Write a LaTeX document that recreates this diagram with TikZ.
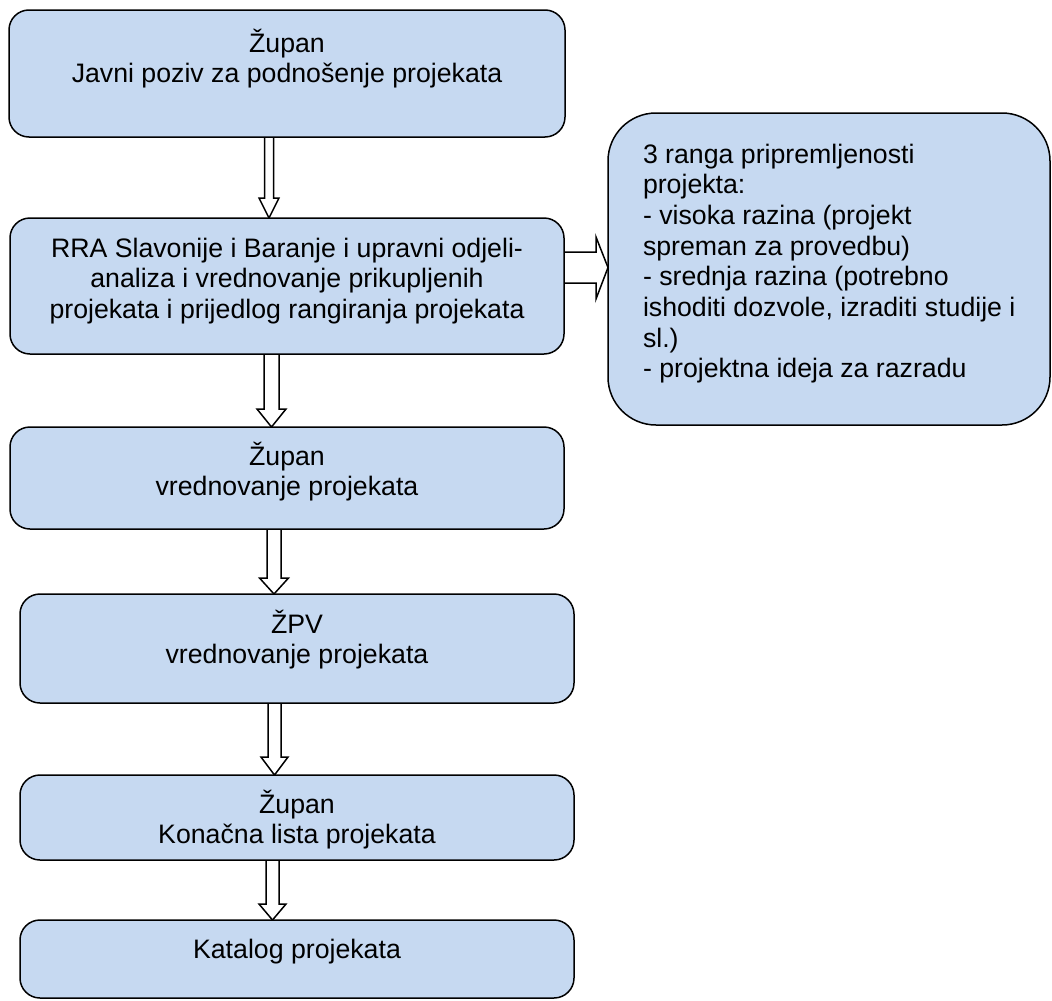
\documentclass[tikz,border=0pt]{standalone}
\usepackage{fontspec}
\setmainfont{Liberation Sans}
\usetikzlibrary{calc}
\pgfdeclarelayer{background}
\pgfsetlayers{background,main}
\definecolor{boxblue}{RGB}{198,217,241}
\tikzset{
  box/.style={draw=black, line width=1.5pt, fill=boxblue, rounded corners=20pt,
    inner sep=0pt, outer sep=0pt, anchor=north west},
  bigbox/.style={box, rounded corners=48pt},
  txt/.style={inner sep=0pt, outer sep=0pt, text=black,
    font=\fontsize{26.7}{30.7}\selectfont},
  blockarrow/.style={draw=black, line width=1.5pt, fill=white, line join=miter},
}
% #1 from node, #2 to node, #3 x centre, #4 half shaft, #5 half head, #6 head length
\newcommand\vblock[6]{%
  \draw[blockarrow] let \p1=(#1.south), \p2=(#2.north) in
    (#3-#4,\y1) -- (#3-#4,\y2+#6pt) -- (#3-#5,\y2+#6pt) -- (#3,\y2)
    -- (#3+#5,\y2+#6pt) -- (#3+#4,\y2+#6pt) -- (#3+#4,\y1);}
\begin{document}
\begin{tikzpicture}[x=1pt,y=-1pt]
\useasboundingbox (0,0) rectangle (1052,1001);
% boxes
\node[box, minimum width=556pt, minimum height=127pt] (b1) at (9,10) {};
\node[box, minimum width=554pt, minimum height=136pt] (b2) at (10,218) {};
\node[box, minimum width=554pt, minimum height=102pt] (b3) at (10,427) {};
\node[box, minimum width=554pt, minimum height=109pt] (b4) at (20,594) {};
\node[box, minimum width=554pt, minimum height=85pt] (b5) at (20,775) {};
\node[box, minimum width=554pt, minimum height=78pt] (b6) at (20,920) {};
\node[bigbox, minimum width=442pt, minimum height=312pt] (r) at (608,113) {};
% texts
\node[txt, anchor=base] (t1) at (287,52) {\parbox[t]{540pt}{\centering Župan\\Javni poziv za podnošenje projekata}};
\node[txt, anchor=base] (t2) at (287,257) {\parbox[t]{540pt}{\centering RRA Slavonije i Baranje i upravni odjeli-\\analiza i vrednovanje prikupljenih\\projekata i prijedlog rangiranja projekata}};
\node[txt, anchor=base] (t3) at (287,465) {\parbox[t]{540pt}{\centering Župan\\vrednovanje projekata}};
\node[txt, anchor=base] (t4) at (297,633) {\parbox[t]{540pt}{\centering ŽPV\\vrednovanje projekata}};
\node[txt, anchor=base] (t5) at (297,813) {\parbox[t]{540pt}{\centering Župan\\Konačna lista projekata}};
\node[txt, anchor=base] (t6) at (297,958) {\parbox[t]{540pt}{\centering Katalog projekata}};
\node[txt, anchor=base west] (tr) at (643,163) {\parbox[t]{400pt}{\raggedright 3 ranga pripremljenosti\\projekta:\\- visoka razina (projekt\\spreman za provedbu)\\- srednja razina (potrebno\\ishoditi dozvole, izraditi studije i\\sl.)\\- projektna ideja za razradu}};
% arrows
\begin{pgfonlayer}{background}
\vblock{b1}{b2}{269}{4.5}{10}{20}
\vblock{b2}{b3}{271.5}{7.5}{14.5}{18}
\vblock{b3}{b4}{274}{7}{14.5}{16}
\vblock{b4}{b5}{274.5}{6.5}{13.5}{18}
\vblock{b5}{b6}{272.5}{6.5}{13.5}{16}
\draw[blockarrow] let \p1=(b2.east), \p2=(r.west) in
  (\x1,252) -- (\x2-12pt,252) -- (\x2-12pt,237) -- (\x2,267.5)
  -- (\x2-12pt,299) -- (\x2-12pt,283) -- (\x1,283);
\end{pgfonlayer}
\end{tikzpicture}
\end{document}
